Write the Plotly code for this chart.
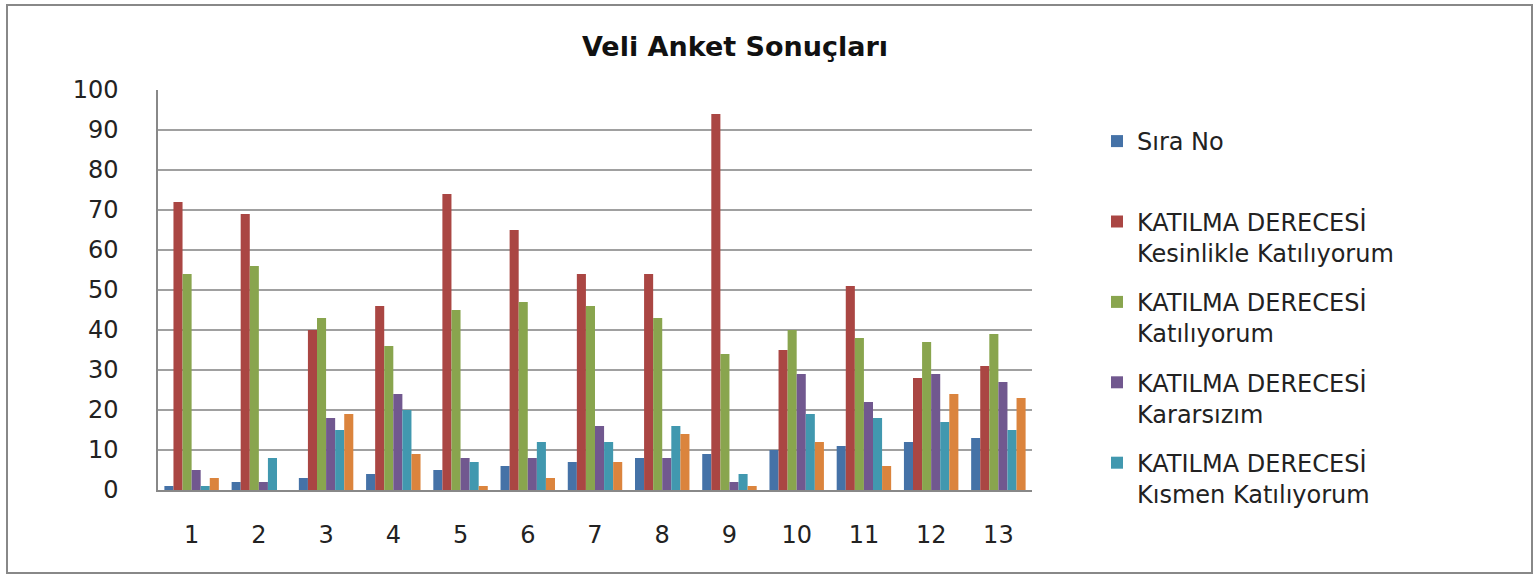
import plotly.graph_objects as go

categories = ["1", "2", "3", "4", "5", "6", "7", "8", "9", "10", "11", "12", "13"]
sira_no = [1, 2, 3, 4, 5, 6, 7, 8, 9, 10, 11, 12, 13]
kesinlikle = [72, 69, 40, 46, 74, 65, 54, 54, 94, 35, 51, 28, 31]
katiliyorum = [54, 56, 43, 36, 45, 47, 46, 43, 34, 40, 38, 37, 39]
kararsizim = [5, 2, 18, 24, 8, 8, 16, 8, 2, 29, 22, 29, 27]
kismen = [1, 8, 15, 20, 7, 12, 12, 16, 4, 19, 18, 17, 15]
katilmiyorum = [3, 0, 19, 9, 1, 3, 7, 14, 1, 12, 6, 24, 23]

series = [
    ("Sıra No<br> ", sira_no, "#4572A7", True),
    ("KATILMA DERECESİ<br>Kesinlikle Katılıyorum", kesinlikle, "#AA4643", True),
    ("KATILMA DERECESİ<br>Katılıyorum", katiliyorum, "#89A54E", True),
    ("KATILMA DERECESİ<br>Kararsızım", kararsizim, "#71588F", True),
    ("KATILMA DERECESİ<br>Kısmen Katılıyorum", kismen, "#4198AF", True),
    ("KATILMA DERECESİ<br>Katılmıyorum", katilmiyorum, "#DB843D", False),
]

fig = go.Figure()
for i, (name, vals, color, show) in enumerate(series):
    fig.add_trace(go.Bar(
        x=categories, y=vals, name=name, marker_color=color,
        marker_line_width=0, showlegend=show, legendgroup=f"g{i}",
    ))

W, H = 1539, 579
L, R, T, B = 158, 507, 90, 89
pw, ph = W - L - R, H - T - B

def px_x(p):
    return (p - L) / pw

def px_y(p):
    return (H - B - p) / ph

font = "DejaVu Sans"
fig.update_layout(
    width=W, height=H,
    margin=dict(l=L, r=R, t=T, b=B, autoexpand=False),
    paper_bgcolor="white", plot_bgcolor="white",
    barmode="group", bargap=0.19, bargroupgap=0,
    font=dict(family=font, color="#222222"),
    title=dict(text="<b>Veli Anket Sonuçları</b>", x=735 / W, xref="container",
               xanchor="center", y=1 - 47 / H, yref="container", yanchor="middle",
               font=dict(size=27, family=font, color="#111111")),
    legend=dict(x=px_x(1097), y=px_y(119), xanchor="left", yanchor="top",
                font=dict(size=24, family=font, color="#222222"),
                valign="top", tracegroupgap=15, itemwidth=30,
                maxheight=540, bgcolor="rgba(0,0,0,0)"),
    showlegend=True,
)
fig.update_xaxes(
    showgrid=False, showline=True, linecolor="#888888", linewidth=1.5,
    ticks="", tickfont=dict(size=24, family=font, color="#222222"),
    ticklabelstandoff=22,
)
fig.update_yaxes(
    range=[0, 100], dtick=10, showgrid=True, gridcolor="#A0A0A0", gridwidth=1.5,
    showline=True, linecolor="#888888", linewidth=1.5, ticks="",
    tickfont=dict(size=24, family=font, color="#222222"),
    ticklabelstandoff=33, zeroline=False,
)
fig.add_shape(type="rect", xref="paper", yref="paper",
              x0=px_x(7), x1=px_x(1532), y0=px_y(573), y1=px_y(5),
              line=dict(color="#888888", width=2), layer="below")

fig.write_html("out.html", config={"displayModeBar": False},
               post_script="document.body.style.margin='0';document.body.style.overflow='hidden';")
